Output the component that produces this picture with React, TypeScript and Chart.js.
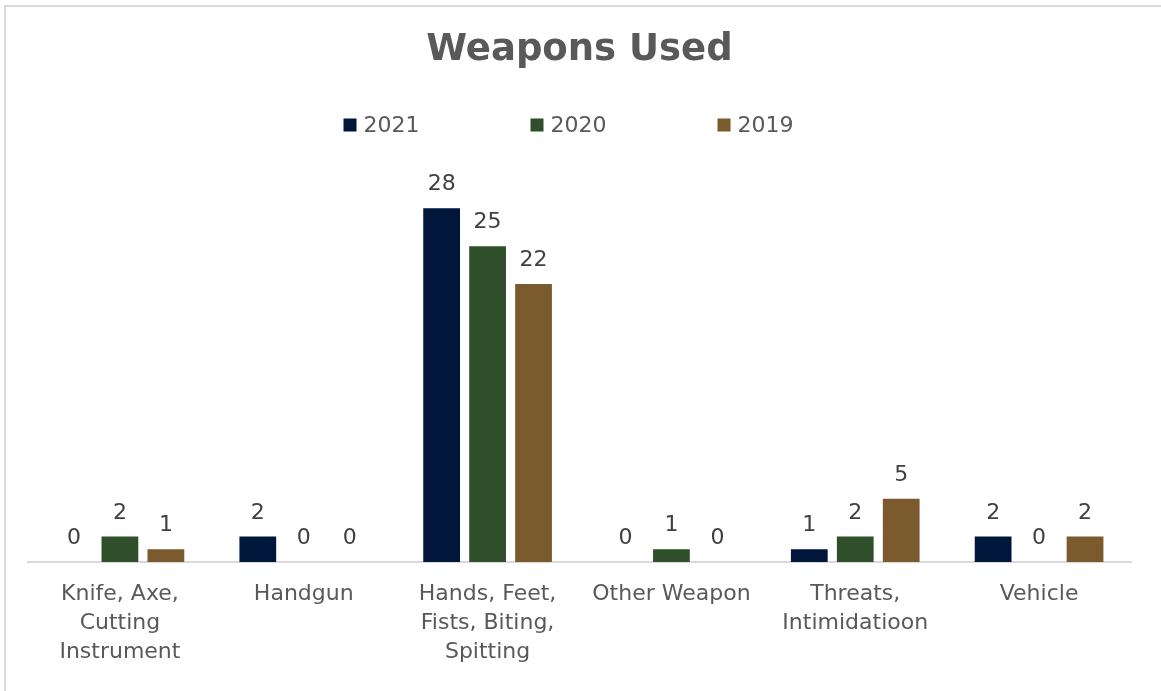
import React, { useEffect, useRef } from "react";
import { Chart, registerables } from "chart.js";

Chart.register(...registerables);

const categories: string[][] = [
  ["Knife, Axe,", "Cutting", "Instrument"],
  ["Handgun"],
  ["Hands, Feet,", "Fists, Biting,", "Spitting"],
  ["Other Weapon"],
  ["Threats,", "Intimidatioon"],
  ["Vehicle"],
];
const seriesNames = ["2021", "2020", "2019"];
const values2021 = [0, 2, 28, 0, 1, 2];
const values2020 = [2, 0, 25, 1, 2, 0];
const values2019 = [1, 0, 22, 0, 5, 2];
const seriesColors = ["#00163A", "#2F4F2A", "#7B5B2E"];

const FONT = "'DejaVu Sans', Verdana, sans-serif";

const valueLabels = {
  id: "valueLabels",
  afterDatasetsDraw(chart: any) {
    const ctx = chart.ctx;
    ctx.save();
    ctx.font = `22px ${FONT}`;
    ctx.fillStyle = "#404040";
    ctx.textAlign = "center";
    ctx.textBaseline = "alphabetic";
    chart.data.datasets.forEach((ds: any, i: number) => {
      const meta = chart.getDatasetMeta(i);
      meta.data.forEach((bar: any, j: number) => {
        ctx.fillText(String(ds.data[j]), bar.x, bar.y - 18);
      });
    });
    ctx.restore();
  },
};

// Legend with evenly spaced items (like the spreadsheet legend)
const spacedLegend = {
  id: "spacedLegend",
  afterDraw(chart: any) {
    const ctx = chart.ctx;
    ctx.save();
    ctx.font = `22px ${FONT}`;
    ctx.textBaseline = "middle";
    ctx.textAlign = "left";
    const box = 13;
    const gap = 7;
    const step = 187;
    const n = chart.data.datasets.length;
    const itemW = box + gap + ctx.measureText(chart.data.datasets[n - 1].label).width;
    const total = step * (n - 1) + itemW;
    const cx = chart.width / 2 - 12;
    const cy = 125;
    let x = cx - total / 2;
    chart.data.datasets.forEach((ds: any) => {
      ctx.fillStyle = ds.backgroundColor;
      ctx.fillRect(x, cy - box / 2, box, box);
      ctx.fillStyle = "#595959";
      ctx.fillText(ds.label, x + box + gap, cy + 1);
      x += step;
    });
    ctx.restore();
  },
};

export default function App() {
  const ref = useRef<HTMLCanvasElement>(null);
  useEffect(() => {
    document.body.style.margin = "0";
    const chart = new Chart(ref.current!, {
      type: "bar",
      data: {
        labels: categories,
        datasets: [values2021, values2020, values2019].map((d, i) => ({
          label: seriesNames[i],
          data: d,
          backgroundColor: seriesColors[i],
          categoryPercentage: 0.75,
          barPercentage: 0.8,
        })),
      },
      options: {
        animation: false,
        responsive: false,
        maintainAspectRatio: false,
        layout: { padding: { left: 28, right: 30, top: 0, bottom: 6 } },
        plugins: {
          title: {
            display: true,
            text: "Weapons Used",
            color: "#595959",
            font: { family: FONT, size: 37, weight: "bold", lineHeight: 1.2 },
            padding: { top: 28, bottom: 110.6 },
          },
          legend: { display: false },
          tooltip: { enabled: false },
        },
        scales: {
          x: {
            grid: { display: false, drawTicks: false },
            border: { display: true, color: "#D9D9D9", width: 2 },
            ticks: {
              color: "#595959",
              font: { family: FONT, size: 22, lineHeight: 1.32 },
              padding: 18,
              maxRotation: 0,
              autoSkip: false,
            },
          },
          y: {
            display: false,
            min: 0,
            max: 30,
          },
        },
      },
      plugins: [valueLabels, spacedLegend],
    });
    return () => chart.destroy();
  }, []);
  return (
    <div style={{ position: "relative", width: 1161, height: 691, overflow: "hidden", background: "#fff" }}>
      <canvas ref={ref} width={1161} height={691} style={{ position: "absolute", left: 0, top: 0 }} />
      <div
        style={{
          position: "absolute",
          left: 4,
          top: 5,
          width: 1200,
          height: 720,
          borderLeft: "2px solid #D9D9D9",
          borderTop: "2px solid #D9D9D9",
          pointerEvents: "none",
        }}
      />
    </div>
  );
}
